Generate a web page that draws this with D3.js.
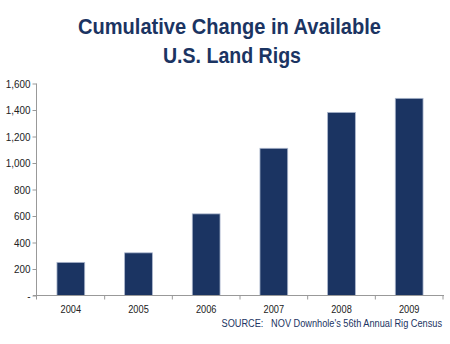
<!DOCTYPE html>
<html>
<head>
<meta charset="utf-8">
<script src="https://cdn.jsdelivr.net/npm/d3@7"></script>
<style>
  body { margin: 0; background: #fff; }
  text { font-family: "Liberation Sans", Arial, sans-serif; }
</style>
</head>
<body>
<div id="chart"></div>
<script>
// data
const years = ["2004", "2005", "2006", "2007", "2008", "2009"];
const rigChange = [250, 322, 616, 1111, 1382, 1488];
const yTicks = [0, 200, 400, 600, 800, 1000, 1200, 1400, 1600];
const titleLines = ["Cumulative Change in Available", "U.S. Land Rigs"];
const sourceNote = "SOURCE:   NOV Downhole's 56th Annual Rig Census";

const W = 450, H = 344;
const navy = "#1b3462";

const svg = d3.select("#chart")
  .append("svg")
  .attr("width", W)
  .attr("height", H);

// no condensed font installed, so squeeze text horizontally
const squeeze = (sel, f) => sel.each(function () {
  const t = d3.select(this);
  const tx = +t.attr("x") || 0, ty = +t.attr("y") || 0;
  t.attr("x", 0).attr("y", 0)
    .attr("transform", `translate(${tx},${ty}) scale(${f},1)`);
});

// --- title ---
const titleWidths = [303, 138];
const titleCenters = [229.5, 232];
svg.selectAll(".title")
  .data(titleLines)
  .enter()
  .append("text")
  .attr("class", "title")
  .attr("x", (d, i) => titleCenters[i] - titleWidths[i] / 2)
  .attr("y", (d, i) => 34 + i * 29)
  .attr("textLength", (d, i) => titleWidths[i])
  .attr("lengthAdjust", "spacingAndGlyphs")
  .style("font-size", "22.5px")
  .style("font-weight", "bold")
  .style("fill", navy)
  .text(d => d);

// --- scales ---
const x = d3.scaleBand()
  .domain(years)
  .range([37, 443])
  .paddingInner(0.59)
  .paddingOuter(0.295);

const xTick = d3.scaleBand()
  .domain(years)
  .range([37, 443]);

const y = d3.scaleLinear()
  .domain([0, 1600])
  .range([295.5, 83.5]);

// --- bars ---
svg.selectAll(".bar")
  .data(rigChange)
  .enter()
  .append("rect")
  .attr("class", "bar")
  .attr("x", (d, i) => x(years[i]))
  .attr("y", d => y(d))
  .attr("width", x.bandwidth())
  .attr("height", d => y(0) - y(d))
  .attr("fill", navy)
  .attr("stroke", "#aab6cc")
  .attr("stroke-width", 0.8);

// --- y axis ---
const yAxis = svg.append("g")
  .attr("transform", "translate(36.5,0)")
  .call(d3.axisLeft(y)
    .tickValues(yTicks)
    .tickSize(4)
    .tickPadding(3)
    .tickFormat(d => d === 0 ? "-" : d3.format(",")(d)));
yAxis.select(".domain").attr("stroke", "#999").attr("d", `M0,${y(1600)}V${y(0) + 4}`);
yAxis.selectAll(".tick line").attr("stroke", "#999");
yAxis.selectAll(".tick text")
  .style("font-size", "11.5px")
  .style("fill", "#222")
  .attr("transform", "scale(0.86,1)");

// --- x axis ---
const xAxis = svg.append("g")
  .attr("transform", `translate(0,${y(0)})`);
xAxis.append("line")
  .attr("x1", 33)
  .attr("x2", 444)
  .attr("stroke", "#999");
xAxis.selectAll(".xtick")
  .data(years)
  .enter()
  .append("line")
  .attr("class", "xtick")
  .attr("x1", d => xTick(d) + xTick.bandwidth())
  .attr("x2", d => xTick(d) + xTick.bandwidth())
  .attr("y1", 0)
  .attr("y2", 4)
  .attr("stroke", "#999");
xAxis.selectAll(".xlabel")
  .data(years)
  .enter()
  .append("text")
  .attr("class", "xlabel")
  .attr("x", d => x(d) + x.bandwidth() / 2)
  .attr("y", 17)
  .attr("text-anchor", "middle")
  .style("font-size", "11px")
  .style("fill", "#222")
  .text(d => d)
  .call(squeeze, 0.84);

// --- source note ---
svg.append("text")
  .attr("x", 442)
  .attr("y", 327)
  .attr("text-anchor", "end")
  .style("font-size", "11.5px")
  .style("fill", navy)
  .style("white-space", "pre")
  .attr("xml:space", "preserve")
  .text(sourceNote)
  .call(squeeze, 0.8);
</script>
</body>
</html>
